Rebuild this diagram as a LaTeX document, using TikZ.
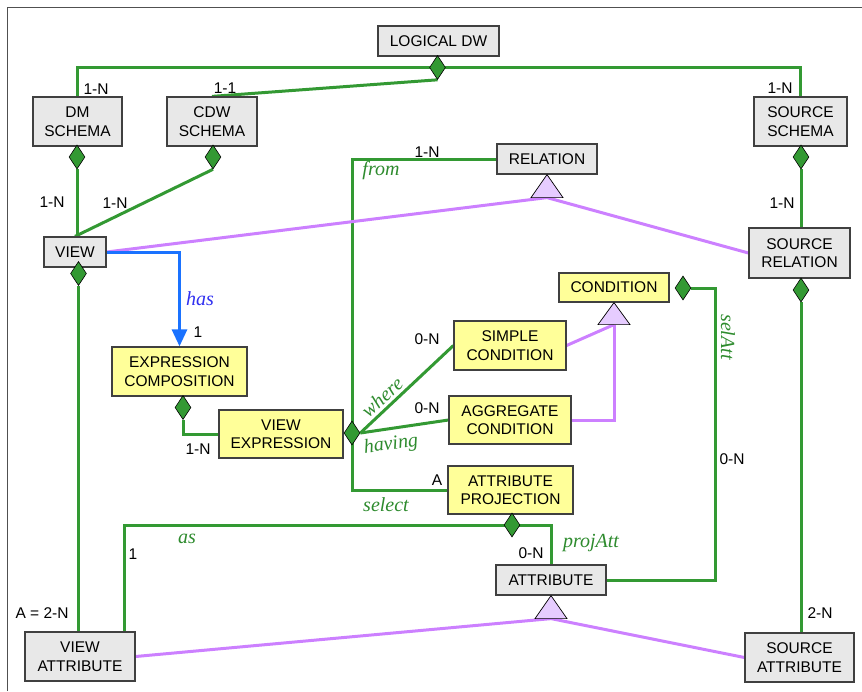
\documentclass[tikz,border=0pt]{standalone}
\usepackage{fontspec}
\setmainfont{Liberation Sans}
\newfontfamily\rolefont{Liberation Serif}
\usetikzlibrary{shapes.geometric,arrows.meta,calc}
\pgfdeclarelayer{background}
\pgfsetlayers{background,main}

\definecolor{linkgreen}{HTML}{339933}
\definecolor{rolegreen}{HTML}{2E8B2E}
\definecolor{isapurple}{HTML}{CC80FF}
\definecolor{isafill}{HTML}{E6CCFF}
\definecolor{hasblue}{HTML}{1A72FF}
\definecolor{hastext}{HTML}{3030F0}
\definecolor{boxgray}{HTML}{E8E8E8}
\definecolor{boxyellow}{HTML}{FFFF99}
\definecolor{boxline}{HTML}{404040}
\definecolor{framegray}{HTML}{505050}

\begin{document}
\begin{tikzpicture}[x=1pt,y=-1pt,
  box/.style={draw=boxline, line width=1.2pt, inner sep=0pt, align=center,
    font=\fontsize{15.5}{18.5}\selectfont},
  gbox/.style={box, fill=boxgray},
  ybox/.style={box, fill=boxyellow},
  dia/.style={diamond, draw=black, line width=0.6pt, fill=linkgreen,
    minimum width=16pt, minimum height=24pt, inner sep=0pt},
  tri/.style={draw=black, line width=0.7pt, fill=isafill},
  glink/.style={draw=linkgreen, line width=3pt},
  plink/.style={draw=isapurple, line width=3pt},
  blink/.style={draw=hasblue, line width=3pt},
  lab/.style={inner sep=0pt, font=\fontsize{15.5}{18}\selectfont},
  role/.style={inner sep=0pt, text=rolegreen, font=\rolefont\itshape\fontsize{20}{22}\selectfont}
]
\useasboundingbox (0,0) rectangle (862,691);

% frame
\draw[framegray, line width=1.2pt] (7.5,691) -- (7.5,7.5) -- (862,7.5);

% entities
\node[gbox, minimum width=121pt, minimum height=30pt] (ldw) at (438.5,41) {LOGICAL DW};
\node[gbox, minimum width=89pt, minimum height=49pt] (dm) at (77.5,121.5) {DM\\SCHEMA};
\node[gbox, minimum width=90pt, minimum height=49pt] (cdw) at (212,121.5) {CDW\\SCHEMA};
\node[gbox, minimum width=93pt, minimum height=49pt] (ss) at (800.5,121.5) {SOURCE\\SCHEMA};
\node[gbox, minimum width=100pt, minimum height=30pt] (rel) at (547,159) {RELATION};
\node[gbox, minimum width=62pt, minimum height=30pt] (view) at (75,252) {VIEW};
\node[gbox, minimum width=101pt, minimum height=50pt] (sr) at (799.5,253) {SOURCE\\RELATION};
\node[ybox, minimum width=110pt, minimum height=29pt] (cond) at (614,287.5) {CONDITION};
\node[ybox, minimum width=112pt, minimum height=49pt] (sc) at (510,345.5) {SIMPLE\\CONDITION};
\node[ybox, minimum width=135pt, minimum height=49pt] (ec) at (179.5,371.5) {EXPRESSION\\COMPOSITION};
\node[ybox, minimum width=124pt, minimum height=48pt] (ve) at (281,434) {VIEW\\EXPRESSION};
\node[ybox, minimum width=122pt, minimum height=48pt] (ac) at (510,420) {AGGREGATE\\CONDITION};
\node[ybox, minimum width=125pt, minimum height=48pt] (ap) at (510.5,490) {ATTRIBUTE\\PROJECTION};
\node[gbox, minimum width=110pt, minimum height=30pt] (att) at (551,580) {ATTRIBUTE};
\node[gbox, minimum width=110pt, minimum height=49pt] (va) at (80,656.5) {VIEW\\ATTRIBUTE};
\node[gbox, minimum width=109pt, minimum height=49pt] (sa) at (799.5,657.5) {SOURCE\\ATTRIBUTE};

% aggregation diamonds
\node[dia] (ldwD) at (437.5,67.5) {};
\node[dia] (dmD) at (77,157) {};
\node[dia] (cdwD) at (213,157) {};
\node[dia] (ssD) at (801,157) {};
\node[dia] (viewD) at (78.5,273.5) {};
\node[dia] (srD) at (801,290) {};
\node[dia] (condD) at (683,288) {};
\node[dia] (ecD) at (183,407.5) {};
\node[dia] (veD) at (352,433) {};
\node[dia] (apD) at (512,525) {};

% generalisation triangles
\draw[tri] (rel.south) -- ++(-16,23) -- ++(32,0) -- cycle;
\coordinate (relT) at ($(rel.south)+(0,23)$);
\draw[tri] (cond.south) -- ++(-16,22) -- ++(32,0) -- cycle;
\coordinate (condT) at ($(cond.south)+(0,22)$);
\draw[tri] (att.south) -- ++(-16,23) -- ++(32,0) -- cycle;
\coordinate (attT) at ($(att.south)+(0,23)$);

% bend points
\coordinate (asEnd) at ($(va.north east)+(-11,0)$);
\coordinate (selBend) at (715,450);

\begin{pgfonlayer}{background}
  % aggregation links
  \draw[glink] (dm.north) |- (ldwD.center) -| (ss.north);
  \draw[glink] (ldwD.south) -- (cdw.north);
  \draw[glink] (dmD.south) -- (dmD.south |- view.north);
  \draw[glink] (cdwD.south) -- (view.north);
  \draw[glink] (ssD.south) -- (ssD.south |- sr.north);
  \draw[glink] (srD.south) -- (srD.south |- sa.north);
  \draw[glink] (viewD.south) -- (viewD.south |- va.north);
  \draw[glink] (ecD.south) |- (ve.west);
  \draw[glink] (veD.center) |- (rel.west);
  \draw[glink] (veD.center) |- (ap.west);
  \draw[glink] (veD.east) -- (sc.west);
  \draw[glink] (veD.east) -- (ac.west);
  \draw[glink] (apD.center) -| (asEnd);
  \draw[glink] (apD.center) -| (att.north);
  \draw[glink] (att.east) -| (selBend) |- (condD.east);
  % generalisation links
  \draw[plink] (relT) -- (view.east);
  \draw[plink] (relT) -- (sr.west);
  \draw[plink] (condT) -- (sc.east);
  \draw[plink] (condT) |- (ac.east);
  \draw[plink] (attT) -- (va.east);
  \draw[plink] (attT) -- (sa.west);
  % composition
  \draw[blink, -{Triangle[width=15pt,length=17pt]}] (view.east) -| (ec.north);
\end{pgfonlayer}

% cardinalities
\node[lab] (c1) at (96,89) {1-N};
\node[lab] (c2) at (225,88) {1-1};
\node[lab] (c3) at (780,88) {1-N};
\node[lab] (c4) at (52,202) {1-N};
\node[lab] (c5) at (115,203) {1-N};
\node[lab] (c6) at (782,203) {1-N};
\node[lab] (c7) at (427,152) {1-N};
\node[lab] (c8) at (198,332) {1};
\node[lab] (c9) at (427,339) {0-N};
\node[lab] (c10) at (427,408) {0-N};
\node[lab] (c11) at (198,449) {1-N};
\node[lab] (c12) at (437,480) {A};
\node[lab] (c13) at (732,459) {0-N};
\node[lab] (c14) at (133,554) {1};
\node[lab] (c15) at (531,553) {0-N};
\node[lab] (c16) at (42,613) {A = 2-N};
\node[lab] (c17) at (820,613) {2-N};

% role names
\node[role] (rFrom) at (381,171) {from};
\node[role, rotate=42] (rWhere) at (382,397) {where};
\node[role, rotate=7] (rHaving) at (391,445) {having};
\node[role] (rSelect) at (386,505) {select};
\node[role] (rAs) at (187,539) {as};
\node[role] (rProj) at (591,543) {projAtt};
\node[role, rotate=-90] (rSel) at (728,337) {selAtt};
\node[role, text=hastext] (rHas) at (200,299) {has};
\end{tikzpicture}
\end{document}
